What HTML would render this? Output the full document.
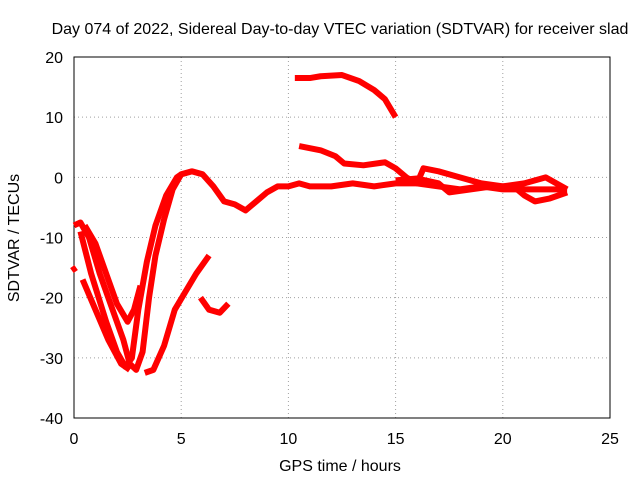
<!DOCTYPE html>
<html><head><meta charset="utf-8"><style>
body{margin:0;background:#fff}
svg text{font-family:"Liberation Sans",sans-serif;font-size:16px;fill:#000}
</style></head><body>
<svg width="640" height="480" xmlns="http://www.w3.org/2000/svg">
<g id="grid"></g>
<rect x="74" y="57" width="536" height="361" fill="none" stroke="#000"/>
<g id="ticks"></g>
<g id="series"></g>
<text x="340" y="34" text-anchor="middle">Day 074 of 2022, Sidereal Day-to-day VTEC variation (SDTVAR) for receiver slad</text>
<text x="340" y="471" text-anchor="middle">GPS time / hours</text>
<text transform="translate(19,238) rotate(-90)" text-anchor="middle">SDTVAR / TECUs</text>
</svg>
<script>
const xTicks=[0,5,10,15,20,25];
const yTicks=[20,10,0,-10,-20,-30,-40];
const sA=[[0,-8],[0.3,-7.5],[0.7,-10],[1.2,-16],[1.8,-22],[2.3,-27],[2.6,-31],[2.9,-32],[3.2,-29],[3.5,-20],[3.8,-13],[4.2,-7],[4.6,-2],[5,0.5],[5.5,1],[6,0.5],[6.5,-1.5],[7,-4],[7.5,-4.5],[8,-5.5],[8.5,-4],[9,-2.5],[9.5,-1.5],[10,-1.5],[10.5,-1],[11,-1.5],[12,-1.5],[13,-1],[14,-1.5],[15,-1],[16,-1],[17,-1.5],[18,-2],[19,-1.5],[20,-2],[21,-2],[22,-2],[23,-2]];
const sB=[[0.3,-9],[0.8,-16],[1.5,-24],[2,-29],[2.4,-31.5],[2.7,-30],[3,-22],[3.4,-14],[3.8,-8],[4.3,-3],[4.8,0],[5,0.5]];
const sC=[[0.5,-8],[1,-11],[1.5,-16],[2,-21],[2.5,-24],[2.8,-22],[3.1,-18]];
const sD=[[0.4,-17],[1,-22],[1.6,-27],[2.2,-31],[2.6,-32]];
const sE=[[3.3,-32.5],[3.7,-32],[4.2,-28],[4.7,-22],[5.2,-19],[5.7,-16],[6.3,-13]];
const sF=[[5.9,-20],[6.3,-22],[6.8,-22.5],[7.2,-21]];
const sG=[[10.3,16.5],[11,16.5],[11.5,16.8],[12.5,17],[13.3,16],[14,14.5],[14.5,13],[15,10]];
const sH=[[10.5,5.2],[11.5,4.5],[12.2,3.5],[12.6,2.3],[13.5,2],[14.5,2.5],[15,1.5],[15.5,0],[16,-1],[16.3,1.5],[17,1],[18,0],[19,-1],[20,-1.5],[21,-1],[22,0],[22.5,-1],[23,-2]];
const sI=[[15,-0.5],[16,-0.2],[17,-1],[17.5,-2.5],[18.5,-2],[19.5,-1.5],[20.5,-1.5],[21,-3],[21.5,-4],[22.2,-3.5],[23,-2.5]];
const sJ=[[-0.1,-15.5],[0.1,-15]];
const allSeries=[sA,sB,sC,sD,sE,sF,sG,sH,sI,sJ];
const NS="http://www.w3.org/2000/svg";
const X=v=>74+v*(536/25), Y=v=>57+(20-v)*(361/60);
const grid=document.getElementById('grid'),ticks=document.getElementById('ticks'),ser=document.getElementById('series');
function mk(t,a,p){const e=document.createElementNS(NS,t);for(const k in a)e.setAttribute(k,a[k]);p.appendChild(e);return e;}
xTicks.forEach(v=>{
 const l=mk('line',{x1:X(v),x2:X(v),y1:57,y2:418,stroke:'#a0a0a0','stroke-dasharray':'1,3'},grid);
 
 
 const t=mk('text',{x:X(v),y:444,'text-anchor':'middle'},ticks);t.textContent=v;
 
 
});
yTicks.forEach(v=>{
 const l=mk('line',{x1:74,x2:610,y1:Y(v),y2:Y(v),stroke:'#a0a0a0','stroke-dasharray':'1,3'},grid);
 
 
 const t=mk('text',{x:63,y:Y(v)+6,'text-anchor':'end'},ticks);t.textContent=v;
 
 
});
allSeries.forEach((s,i)=>{
 const p=mk('polyline',{points:s.map(d=>X(d[0])+','+Y(d[1])).join(' '),fill:'none',stroke:'#ff0000','stroke-width':6,'stroke-linejoin':'round'},ser);
 
 
});
</script>
</body></html>
